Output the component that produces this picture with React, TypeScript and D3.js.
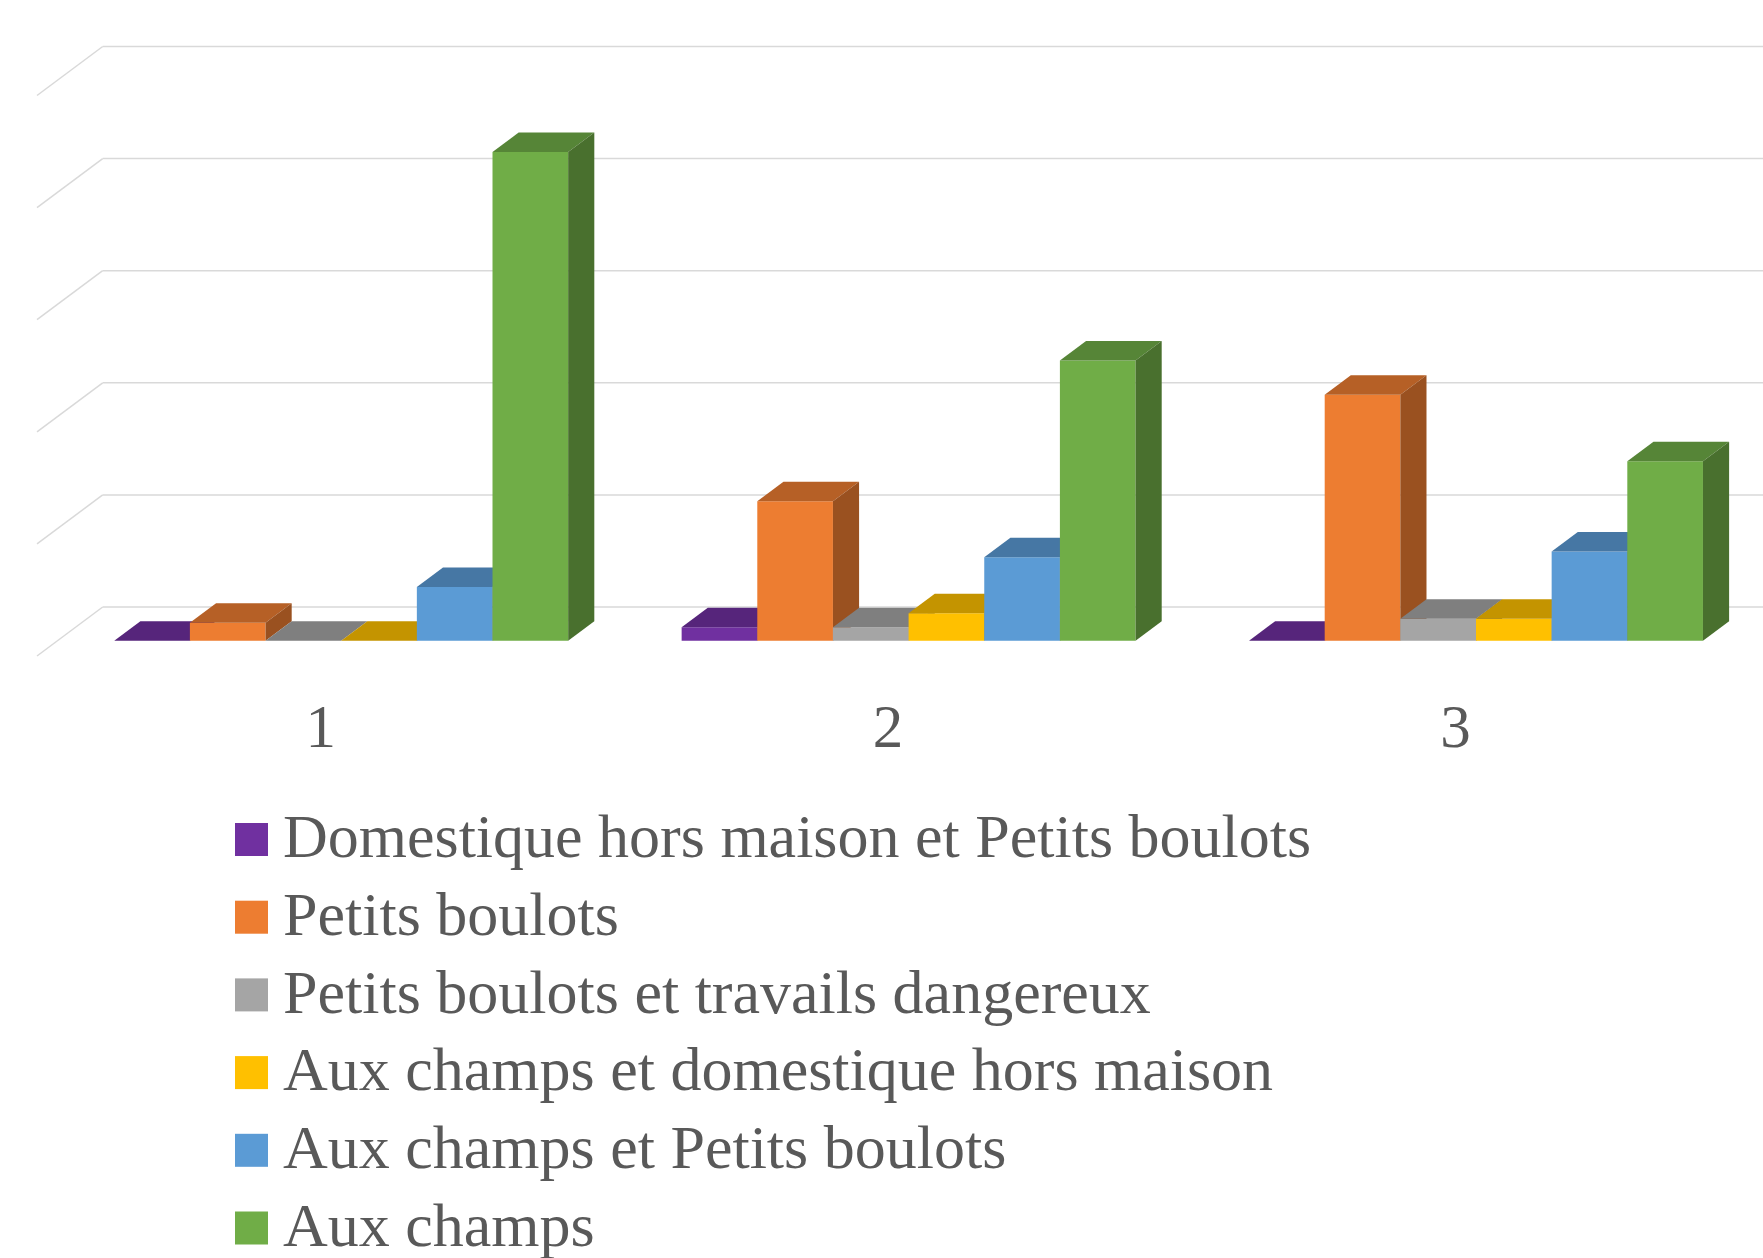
import React from "react";
import * as d3 from "d3";

const categories = ["1", "2", "3"];
const seriesNames = [
  "Domestique hors maison et Petits boulots",
  "Petits boulots",
  "Petits boulots et travails dangereux",
  "Aux champs et domestique hors maison",
  "Aux champs et Petits boulots",
  "Aux champs",
];
const seriesColors = ["#7030A0", "#ED7D31", "#A5A5A5", "#FFC000", "#5B9BD5", "#70AD47"];
// values (%) per series, one entry per category
const domestiqueEtPetits = [0, 2.4, 0];
const petitsBoulots = [3.2, 24.9, 43.9];
const petitsEtDangereux = [0, 2.4, 3.9];
const champsEtDomestique = [0, 4.9, 3.9];
const champsEtPetits = [9.6, 14.9, 15.9];
const auxChamps = [87.2, 50.0, 32.0];
const seriesValues = [
  domestiqueEtPetits,
  petitsBoulots,
  petitsEtDangereux,
  champsEtDomestique,
  champsEtPetits,
  auxChamps,
];
const gridTicks = [0, 20, 40, 60, 80, 100];

const W = 1763;
const H = 1258;

export default function App() {
  // back wall geometry
  const wallLeft = 102.7;
  const wallBase = 607;
  const depthVec = [-65.7, 49]; // from back (z=0) to front (z=1)
  const zFront = 0.688;
  const zBack = 0.29;

  const yWall = d3.scaleLinear().domain([0, 100]).range([wallBase, wallBase - 560.5]);
  const x0 = d3
    .scaleBand<string>()
    .domain(categories)
    .range([wallLeft, wallLeft + 1702.2])
    .paddingInner(0.2)
    .paddingOuter(0.1);
  const x1 = d3
    .scaleBand<number>()
    .domain(d3.range(seriesNames.length))
    .range([0, x0.bandwidth()]);

  const proj = (x: number, v: number, z: number): [number, number] => [
    x + z * depthVec[0],
    yWall(v) + z * depthVec[1],
  ];
  const pts = (arr: [number, number][]) => arr.map((p) => p.join(",")).join(" ");

  const bars: JSX.Element[] = [];
  categories.forEach((cat, ci) => {
    seriesNames.forEach((_, si) => {
      const v = seriesValues[si][ci];
      const xl = (x0(cat) as number) + (x1(si) as number);
      const xr = xl + x1.bandwidth();
      const base = seriesColors[si];
      const c = d3.rgb(base);
      const shade = (k: number) => d3.rgb(c.r * k, c.g * k, c.b * k).formatHex();
      const front = pts([
        proj(xl, 0, zFront),
        proj(xr, 0, zFront),
        proj(xr, v, zFront),
        proj(xl, v, zFront),
      ]);
      const top = pts([
        proj(xl, v, zFront),
        proj(xr, v, zFront),
        proj(xr, v, zBack),
        proj(xl, v, zBack),
      ]);
      const side = pts([
        proj(xr, 0, zFront),
        proj(xr, v, zFront),
        proj(xr, v, zBack),
        proj(xr, 0, zBack),
      ]);
      bars.push(
        <g key={`${ci}-${si}`}>
          {v > 0 && <polygon points={front} fill={base} />}
          <polygon points={top} fill={shade(0.77)} />
          {v > 0 && <polygon points={side} fill={shade(0.65)} />}
        </g>
      );
    });
  });

  const legendRowY = (i: number) => 839.5 + i * 77.7;

  return (
    <svg
      width={W}
      height={H}
      style={{ position: "absolute", left: 0, top: 0, background: "#fff" }}
      fontFamily="'Liberation Serif', 'Times New Roman', serif"
    >
      <rect x={0} y={0} width={W} height={H} fill="#fff" />
      {gridTicks.map((t) => {
        const [bx, by] = proj(wallLeft, t, 0);
        const [fx, fy] = proj(wallLeft, t, 1);
        return (
          <g key={t}>
            <line x1={bx} y1={by} x2={W} y2={by} stroke="#d9d9d9" strokeWidth={1.5} />
            <line x1={bx} y1={by} x2={fx} y2={fy} stroke="#d9d9d9" strokeWidth={1.5} />
          </g>
        );
      })}
      {bars}
      {categories.map((cat) => {
        const cx = (x0(cat) as number) + x0.bandwidth() / 2 + depthVec[0];
        return (
          <text key={cat} x={cx} y={747} textAnchor="middle" fontSize={61} fill="#595959">
            {cat}
          </text>
        );
      })}
      {seriesNames.map((name, i) => (
        <g key={name}>
          <rect x={235} y={legendRowY(i) - 16.5} width={33} height={33} fill={seriesColors[i]} />
          <text x={283} y={legendRowY(i) + 17.8} fontSize={62} fill="#595959">
            {name}
          </text>
        </g>
      ))}
    </svg>
  );
}
